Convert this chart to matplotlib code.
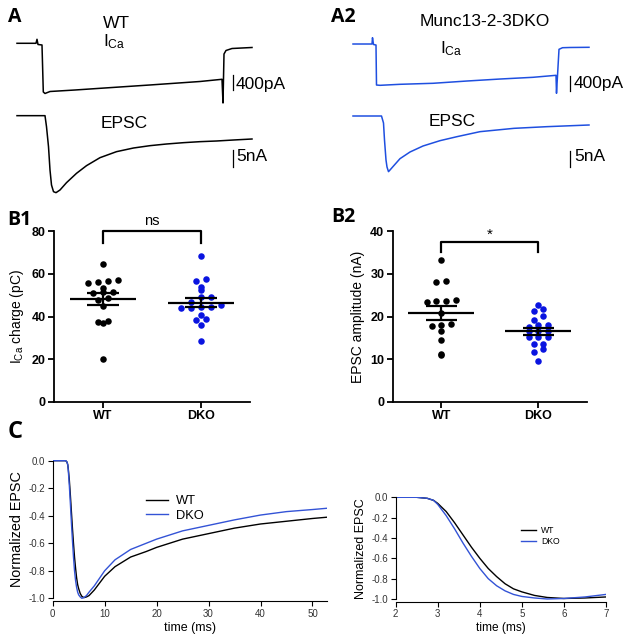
import numpy as np
import matplotlib
matplotlib.use('Agg')
import matplotlib.pyplot as plt

plt.rcParams['font.family'] = ['Liberation Sans', 'DejaVu Sans']
plt.rcParams['mathtext.default'] = 'regular'

W, H = 628, 640
BLUE_TRACE = '#1f4fe0'
BLUE_DOT = '#0a14e0'
BLUE_LINE = '#3353d6'

# ---------- A: example traces (time in ms, ICa in pA, EPSC in nA) ----------
wt_ica_t = [0, 3.8, 4.0, 4.2, 5.0, 5.26, 5.6, 6.6, 11.6, 16.6, 26.6, 36.6, 41.0, 41.2, 41.4, 41.8, 43.0, 47.0]
wt_ica = [0, 0, 107, -32, -45, -1300, -1340, -1287, -1247, -1202, -1113, -1020, -961, -1594, -286, -192, -139, -112]

wt_epsc_t = [0, 5.6, 5.9, 6.3, 6.6, 6.9, 7.3, 7.8, 8.6, 9.9, 11.9, 13.9, 16.6, 19.9, 23.3, 26.6, 29.9,
             33.3, 36.6, 39.9, 43.3, 47.0]
wt_epsc = [0, 0, -3.3, -9.3, -16.3, -20.8, -22.8, -23.1, -22.3, -20.1, -17.3, -15.0, -12.6, -10.8, -9.7, -9.0,
           -8.5, -8.1, -7.8, -7.6, -7.3, -7.0]

dko_ica_t = [0, 3.8, 3.9, 4.1, 4.6, 4.7, 5.4, 9.4, 16.0, 22.8, 29.4, 36.0, 40.6, 40.7, 41.2, 41.9, 43.4, 47.2]
dko_ica = [0, 0, 168, -13, -27, -1095, -1103, -1076, -1049, -988, -935, -889, -836, -1316, -142, -99, -93, -88]

dko_epsc_t = [0, 5.7, 6.1, 6.3, 6.6, 6.8, 7.1, 7.4, 8.1, 9.4, 11.4, 14.0, 17.4, 20.8, 25.4, 32.2, 38.8, 47.2]
dko_epsc = [0, 0, -2.1, -7.2, -13.2, -15.3, -16.7, -16.2, -15.0, -12.8, -10.8, -9.0, -7.4, -6.2, -4.7, -3.7,
            -3.2, -2.7]

ica_bar = 400   # pA
epsc_bar = 5    # nA

# ---------- B: scatter values ----------
groups = ['WT', 'DKO']
b1_wt = [64.4, 56.9, 56.6, 56.2, 55.7, 53.5, 51.6, 51.3, 50.9, 48.7, 47.5, 45.1, 37.9, 37.6, 36.8, 20.1]
b1_dko = [68.5, 57.4, 56.8, 53.9, 52.4, 49.0, 49.0, 46.8, 45.4, 44.3, 44.3, 43.9, 43.9, 40.6, 38.8, 38.4,
          35.8, 28.5]
b2_wt = [33.1, 28.3, 28.1, 23.9, 23.7, 23.6, 23.5, 20.9, 18.2, 17.9, 17.7, 16.6, 14.6, 11.3, 11.1]
b2_dko = [22.6, 21.7, 21.3, 20.2, 19.2, 18.1, 18.0, 17.6, 16.7, 16.5, 16.5, 15.3, 15.2, 15.2, 13.6, 13.6,
          12.4, 11.8, 9.5]

# ---------- C: normalized EPSC (ms) ----------
c_t = [0, 2.0, 2.5, 2.75, 2.9, 3.0, 3.2, 3.4, 3.6, 3.8, 4.0, 4.2, 4.4, 4.6, 4.8, 5.0, 5.3, 5.6, 6.0, 6.5,
       7.0, 8, 9, 10, 12, 15, 18, 20, 25, 30, 35, 40, 45, 50, 53]
c_wt = [0, 0, 0, -0.01, -0.03, -0.06, -0.14, -0.25, -0.37, -0.49, -0.6, -0.7, -0.78, -0.85, -0.9, -0.93,
        -0.965, -0.985, -0.995, -0.99, -0.98, -0.94, -0.89, -0.84, -0.77, -0.70, -0.66, -0.63, -0.57, -0.53,
        -0.49, -0.46, -0.44, -0.42, -0.41]
c_dko = [0, 0, 0, -0.01, -0.03, -0.07, -0.18, -0.31, -0.45, -0.58, -0.7, -0.8, -0.87, -0.92, -0.955, -0.975,
         -0.99, -1.0, -0.995, -0.98, -0.955, -0.91, -0.855, -0.8, -0.72, -0.645, -0.60, -0.57, -0.51, -0.47,
         -0.43, -0.395, -0.37, -0.355, -0.345]

fig = plt.figure(figsize=(W / 100, H / 100), dpi=100)


def px_axes(x0, y0, x1, y1):
    return fig.add_axes([x0 / W, 1 - y1 / H, (x1 - x0) / W, (y1 - y0) / H])


def put(x, y, s, **kw):
    fig.text(x / W, 1 - y / H, s, **kw)


# ==========================================
# A / A2: TRACES
# ==========================================
def trace_panel(x0, x1, t_lim, ica_lim, epsc_lim, ica_t, ica, epsc_t, epsc, color, bar_t):
    a1 = px_axes(x0, 30, x1, 110)
    a1.plot(ica_t, ica, color=color, lw=1.1)
    a1.plot([bar_t, bar_t], [-1250, -1250 + ica_bar], color='black', lw=0.9)
    a1.set_xlim(*t_lim)
    a1.set_ylim(*ica_lim)
    a1.axis('off')
    a2 = px_axes(x0, 105, x1, 200)
    a2.plot(epsc_t, epsc, color=color, lw=1.1)
    a2.plot([bar_t, bar_t], [-15.4, -15.4 + epsc_bar], color='black', lw=0.9)
    a2.set_xlim(*t_lim)
    a2.set_ylim(*epsc_lim)
    a2.axis('off')


trace_panel(10, 300, (-1.4, 56.6), (-1781, 355), (-25.3, 3.2),
            wt_ica_t, wt_ica, wt_epsc_t, wt_epsc, 'black', 43.2)
trace_panel(346, 628, (-1.4, 55.0), (-1762, 374), (-25.2, 3.3),
            dko_ica_t, dko_ica, dko_epsc_t, dko_epsc, BLUE_TRACE, 43.4)

lab = dict(size=14, weight='bold', family=['Open Sans', 'DejaVu Sans'], va='center')
put(8, 17, 'A', **lab)
put(331, 17.5, 'A2', **lab)
put(7, 220, 'B1', **lab)
put(331, 217.5, 'B2', **lab)
put(8, 432, 'C', **dict(lab, size=17))

tx = dict(size=12.5, va='baseline')
put(103, 28.3, 'WT', **tx)
put(103, 46.7, 'I$_{Ca}$', **tx)
put(100.7, 127.7, 'EPSC', **tx)
put(236, 89.3, '400pA', **tx)
put(236, 160.7, '5nA', **tx)
put(420, 26, 'Munc13-2-3DKO', **tx)
put(440, 53, 'I$_{Ca}$', **tx)
put(429, 126, 'EPSC', **tx)
put(574, 88, '400pA', **tx)
put(574, 160.7, '5nA', **tx)


# ==========================================
# B1 / B2: SCATTER
# ==========================================
def column_offsets(vals, bin_w, step):
    vals = np.asarray(vals)
    bins = np.round(vals / bin_w)
    off = np.zeros(len(vals))
    for b in np.unique(bins):
        idx = np.where(bins == b)[0]
        idx = idx[np.argsort(vals[idx])]
        off[idx] = (np.arange(len(idx)) - (len(idx) - 1) / 2) * step
    return off


def scatter_panel(ax, data, colors, bin_w, ymax, ystep, ylabel, bracket, legs, sig, sig_y, sig_size):
    for i, (vals, c) in enumerate(zip(data, colors)):
        off = column_offsets(vals, bin_w, 0.1)
        ax.scatter(i + off, vals, s=22, color=c, linewidths=0, zorder=2, clip_on=False)
        m = np.mean(vals)
        sem = np.std(vals, ddof=1) / np.sqrt(len(vals))
        ax.hlines(m, i - 0.34, i + 0.34, color='black', lw=1.6, zorder=3)
        ax.hlines([m - sem, m + sem], i - 0.16, i + 0.16, color='black', lw=1.6, zorder=3)
        ax.vlines(i, m - sem, m + sem, color='black', lw=1.6, zorder=3)
    ax.plot([0, 0, 1, 1], [legs, bracket, bracket, legs], color='black', lw=1.6, clip_on=False)
    ax.text(0.5, sig_y, sig, ha='center', va='center', size=sig_size)
    ax.set_xlim(-0.5, 1.5)
    ax.set_ylim(0, ymax)
    ax.set_yticks(np.arange(0, ymax + 1, ystep))
    ax.set_yticklabels([str(int(v)) for v in np.arange(0, ymax + 1, ystep)], fontweight='bold', size=9)
    ax.set_xticks([0, 1])
    ax.set_xticklabels(groups, fontweight='bold', size=9)
    for s in ['top', 'right']:
        ax.spines[s].set_visible(False)
    for s in ['left', 'bottom']:
        ax.spines[s].set_linewidth(1.3)
    ax.tick_params(direction='out', length=4, width=1.3, pad=2)
    ax.set_ylabel(ylabel, size=10, labelpad=4)


ax_b1 = px_axes(54, 231, 250, 402)
scatter_panel(ax_b1, [b1_wt, b1_dko], ['black', BLUE_DOT], 3, 80, 20,
              'I$_{Ca}$ charge (pC)', 80, 74.5, 'ns', 84.5, 10.5)

ax_b2 = px_axes(392.7, 231, 587, 402)
scatter_panel(ax_b2, [b2_wt, b2_dko], ['black', BLUE_DOT], 1.5, 40, 10,
              'EPSC amplitude (nA)', 37.4, 35.2, '*', 39.0, 11)


# ==========================================
# C: NORMALIZED EPSC
# ==========================================
def c_panel(ax, xlim, xticks, tick_size, ylab_size, xlab_size, leg_size, leg_anchor, handle_len):
    ax.plot(c_t, c_wt, color='black', lw=1.0, label='WT')
    ax.plot(c_t, c_dko, color=BLUE_LINE, lw=1.0, label='DKO')
    ax.set_xlim(*xlim)
    ax.set_ylim(-1.005, 0.005)
    ax.set_xticks(xticks)
    ax.set_yticks([0.0, -0.2, -0.4, -0.6, -0.8, -1.0])
    ax.set_yticklabels(['%.1f' % v for v in [0.0, -0.2, -0.4, -0.6, -0.8, -1.0]])
    for s in ['top', 'right']:
        ax.spines[s].set_visible(False)
    ax.spines['left'].set_bounds(-1.0, 0.0)
    ax.spines['bottom'].set_position(('outward', 1.5))
    ax.tick_params(direction='out', length=3.5, width=0.8, labelsize=tick_size, labelcolor='#333333', pad=2)
    ax.set_ylabel('Normalized EPSC', size=ylab_size, labelpad=3)
    ax.set_xlabel('time (ms)', size=xlab_size, labelpad=2)
    ax.legend(loc='upper left', bbox_to_anchor=(leg_anchor[0] / W, 1 - leg_anchor[1] / H),
              bbox_transform=fig.transFigure, frameon=False, fontsize=leg_size, borderpad=0,
              borderaxespad=0, handlelength=handle_len, handletextpad=0.6, labelspacing=0.2)


ax_c1 = px_axes(52.7, 460, 327, 599)
c_panel(ax_c1, (0, 52.8), [0, 10, 20, 30, 40, 50], 7, 10.4, 9, 9.3, (146, 495), 1.7)
ax_c1.set_xticklabels(['0', '10', '20', '30', '40', '50'])

ax_c2 = px_axes(395.7, 496.8, 606, 599.5)
c_panel(ax_c2, (2, 7), [2, 3, 4, 5, 6, 7], 7, 9, 8.6, 6.2, (520.7, 526.4), 1.74)

fig.savefig('out.png', dpi=100)
